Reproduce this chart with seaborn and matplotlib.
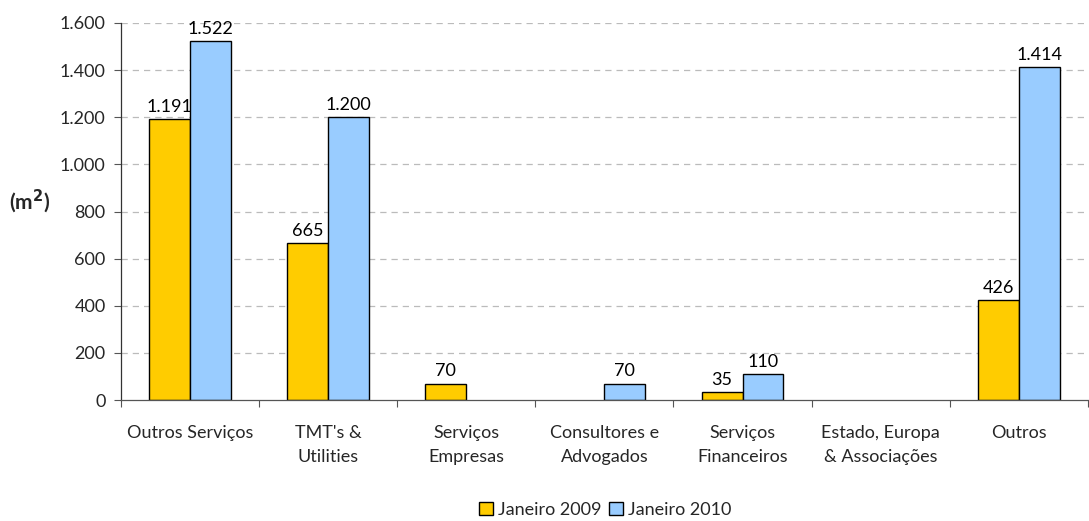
import numpy as np
import pandas as pd
import matplotlib
matplotlib.use("Agg")
import matplotlib.pyplot as plt
import matplotlib.patches as mpatches
import seaborn as sns
from matplotlib.ticker import FuncFormatter, FixedLocator

categories = ["Outros Serviços", "TMT's &\nUtilities", "Serviços\nEmpresas",
              "Consultores e\nAdvogados", "Serviços\nFinanceiros",
              "Estado, Europa\n& Associações", "Outros"]
jan2009 = [1191, 665, 70, np.nan, 35, np.nan, 426]
jan2010 = [1522, 1200, np.nan, 70, 110, np.nan, 1414]
series = ["Janeiro 2009", "Janeiro 2010"]
colors = ["#FFCC00", "#99CCFF"]

sns.set_theme(style="white")
plt.rcParams['font.family'] = ['Lato', 'DejaVu Sans']

FS = 13

df = pd.DataFrame({
    "cat": categories * 2,
    "serie": [series[0]] * len(categories) + [series[1]] * len(categories),
    "val": jan2009 + jan2010,
})

fig = plt.figure(figsize=(10.89, 5.21), dpi=100)
ax = fig.add_axes([0.111, 0.232, 0.888, 0.724])

sns.barplot(data=df, x="cat", y="val", hue="serie", palette=colors,
            width=0.59, edgecolor="black", linewidth=1.0, ax=ax,
            saturation=1, legend=True)

def fmt(v):
    return f"{int(v):,}".replace(",", ".")

for cont in ax.containers:
    for bar in cont:
        if bar is None:
            continue
        h = bar.get_height()
        if np.isnan(h):
            continue
        ax.annotate(fmt(h), (bar.get_x() + bar.get_width() / 2, h),
                    xytext=(0, 3), textcoords="offset points",
                    ha="center", va="bottom", fontsize=FS, color="black")

ax.set_ylim(0, 1600)
ax.set_xlim(-0.5, len(categories) - 0.5)
ax.yaxis.set_major_locator(FixedLocator(np.arange(0, 1601, 200)))
ax.yaxis.set_major_formatter(FuncFormatter(lambda v, p: fmt(v)))
for y in np.arange(200, 1601, 200):
    ax.axhline(y, color="#BBBBBB", linestyle=(0, (5, 4)), linewidth=0.9, zorder=0)

ax.set_xticks(np.arange(-0.5, len(categories), 1.0))
ax.set_xticklabels([])
ax.set_xticks(np.arange(len(categories)), minor=True)
ax.set_xticklabels(categories, minor=True, fontsize=FS, linespacing=1.6)
ax.tick_params(axis="x", which="major", length=5, width=0.8, color="#555555", direction="out", bottom=True)
ax.tick_params(axis="x", which="minor", length=0, pad=18)
ax.tick_params(axis="y", which="major", length=5, width=0.8, color="#555555", direction="out", left=True, labelsize=FS, pad=6)

for s in ["top", "right"]:
    ax.spines[s].set_visible(False)
ax.spines["left"].set_color("#333333")
ax.spines["bottom"].set_color("#555555")
ax.spines["left"].set_linewidth(0.9)
ax.spines["bottom"].set_linewidth(0.9)

ax.set_xlabel("")
ax.set_ylabel("(m$^\\mathbf{2}$)", rotation=0, fontsize=15, fontweight="bold", labelpad=0)
ax.yaxis.set_label_coords(-0.094, 0.49)

if ax.legend_ is not None:
    ax.legend_.remove()
handles = [mpatches.Patch(facecolor=c, edgecolor="black", linewidth=1.0) for c in colors]
fig.legend(handles, series, loc="center", bbox_to_anchor=(0.556, 0.022), ncol=2,
           frameon=False, fontsize=FS, handlelength=0.75, handleheight=0.75,
           handletextpad=0.3, columnspacing=0.4)

fig.savefig("out.png", dpi=100)
